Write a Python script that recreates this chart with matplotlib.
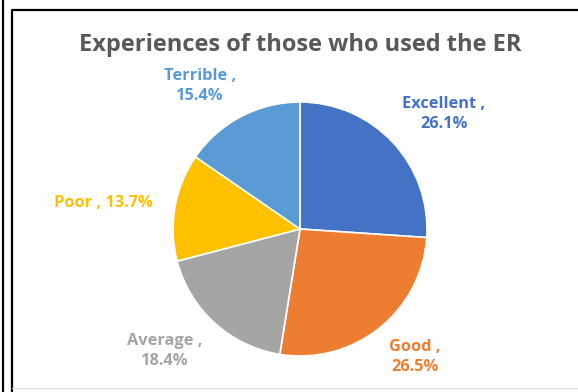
import matplotlib.pyplot as plt
from matplotlib.lines import Line2D

categories = ["Excellent", "Good", "Average", "Poor", "Terrible"]
shares = [26.1, 26.5, 18.4, 13.7, 15.4]
colors = ["#4472C4", "#ED7D31", "#A5A5A5", "#FFC000", "#5B9BD5"]
title = "Experiences of those who used the ER"

plt.rcParams['font.family'] = ['Open Sans', 'DejaVu Sans']

W, H = 578, 392
fig = plt.figure(figsize=(W / 100, H / 100), dpi=100)

# frame lines
fig.add_artist(Line2D([2.5 / W, 2.5 / W], [0, 1], color="black", lw=1.6))
fig.add_artist(Line2D([12 / W, 12 / W, 1], [0, 1 - 10 / H, 1 - 10 / H], color="black", lw=1.6))
fig.add_artist(Line2D([12 / W, 1], [4 / H, 4 / H], color="#d9d9d9", lw=0.8))

# pie placed in pixel terms: centre (300, 229), radius 127
cx, cy, r = 300, 229, 127
ax = fig.add_axes([(cx - r) / W, (H - cy - r) / H, 2 * r / W, 2 * r / H])
wedges, _ = ax.pie(shares, colors=colors, startangle=90, counterclock=False,
                   radius=1, wedgeprops=dict(edgecolor="white", linewidth=1.2))
ax.set_xlim(-1, 1)
ax.set_ylim(-1, 1)
ax.set_aspect("equal")
ax.axis("off")

fig.text(300 / W, 1 - 45 / H, title, ha="center", va="center",
         fontsize=17, fontweight="bold", color="#595959")

# data labels, in pixel positions
label_pos = {
    "Excellent": (444, 114),
    "Good": (415, 357),
    "Average": (165, 351),
    "Poor": (103, 203),
    "Terrible": (200, 86),
}
for name, val, col in zip(categories, shares, colors):
    x, y = label_pos[name]
    if name == "Poor":
        txt = f"{name} , {val:.1f}%"
    else:
        txt = f"{name} ,\n{val:.1f}%"
    fig.text(x / W, 1 - y / H, txt, ha="center", va="center", fontsize=11.8,
             fontweight="bold", color=col, linespacing=1.4)

fig.savefig("out.png", dpi=100)
